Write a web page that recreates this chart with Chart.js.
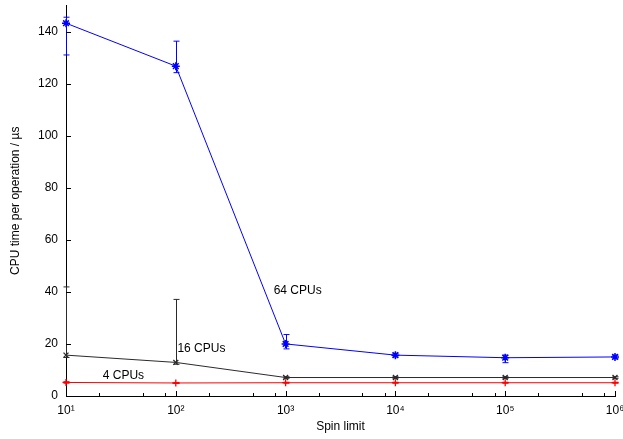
<!DOCTYPE html>
<html>
<head>
<meta charset="utf-8">
<script src="https://cdn.jsdelivr.net/npm/chart.js@4/dist/chart.umd.min.js"></script>
<style>
html, body { margin: 0; padding: 0; background: #fff; }
#wrap { width: 623px; height: 439px; }
</style>
</head>
<body>
<div id="wrap"><canvas id="chSpin"></canvas></div>
<script>
// x values (spin limit) and y tick values
var spinLimits = [10, 100, 1000, 10000, 100000, 1000000];
var yTicks = [0, 20, 40, 60, 80, 100, 120, 140];
var seriesNames = ['64 CPUs', '16 CPUs', '4 CPUs'];

// CPU time per operation (us): mean, low and high of error bar
var cpu64 = [143.2, 126.7, 20.0, 15.7, 14.7, 15.0];
var cpu64Lo = [131.0, 124.2, 18.1, 15.0, 12.8, 14.3];
var cpu64Hi = [145.5, 136.3, 23.6, 16.4, 15.7, 15.7];

var cpu16 = [15.7, 12.9, 7.1, 7.1, 7.1, 7.1];
var cpu16Lo = [14.8, 12.2, 6.8, 6.8, 6.8, 6.8];
var cpu16Hi = [41.9, 37.1, 7.4, 7.4, 7.4, 7.4];

var cpu4 = [5.2, 5.0, 5.1, 5.1, 5.1, 5.1];
var cpu4Lo = [4.9, 4.8, 4.9, 4.9, 4.9, 4.9];
var cpu4Hi = [5.5, 5.2, 5.3, 5.3, 5.3, 5.3];

var FONT = '"Liberation Sans", Arial, Helvetica, sans-serif';
var sup = ['\u2070', '\u00b9', '\u00b2', '\u00b3', '\u2074', '\u2075', '\u2076'];

function pts(vals) {
  return vals.map(function (v, i) { return {x: spinLimits[i], y: v}; });
}

// vertical error bars with small caps
var errorBars = {
  id: 'errorBars',
  afterDatasetsDraw: function (chart) {
    var ctx = chart.ctx, xs = chart.scales.x, ys = chart.scales.y;
    chart.data.datasets.forEach(function (ds) {
      ctx.save();
      ctx.strokeStyle = ds.borderColor;
      ctx.lineWidth = 1;
      ctx.beginPath();
      ds.errLo.forEach(function (lo, i) {
        var px = Math.round(xs.getPixelForValue(spinLimits[i])) + 0.5;
        var top = ys.getPixelForValue(ds.errHi[i]);
        var bot = ys.getPixelForValue(lo);
        ctx.moveTo(px, top); ctx.lineTo(px, bot);
        ctx.moveTo(px - 3, top); ctx.lineTo(px + 3, top);
        ctx.moveTo(px - 3, bot); ctx.lineTo(px + 3, bot);
      });
      ctx.stroke();
      ctx.restore();
    });
  }
};

// inward tick marks, gnuplot style
var inTicks = {
  id: 'inTicks',
  afterDraw: function (chart) {
    var ctx = chart.ctx, a = chart.chartArea, xs = chart.scales.x, ys = chart.scales.y;
    ctx.save();
    ctx.strokeStyle = '#000';
    ctx.lineWidth = 1;
    ctx.beginPath();
    yTicks.forEach(function (v) {
      var py = Math.round(ys.getPixelForValue(v)) + 0.5;
      ctx.moveTo(a.left, py); ctx.lineTo(a.left + 5, py);
    });
    spinLimits.forEach(function (v) {
      var px = Math.round(xs.getPixelForValue(v)) + 0.5;
      ctx.moveTo(px, a.bottom); ctx.lineTo(px, a.bottom - 5);
      if (v < spinLimits[spinLimits.length - 1]) {
        [2, 5, 8].forEach(function (m) {
          var qx = Math.round(xs.getPixelForValue(v * m)) + 0.5;
          ctx.moveTo(qx, a.bottom); ctx.lineTo(qx, a.bottom - 3);
        });
      }
    });
    ctx.stroke();
    ctx.restore();
  }
};

// series names written next to the curves
var seriesLabels = {
  id: 'seriesLabels',
  afterDatasetsDraw: function (chart, args, opts) {
    var ctx = chart.ctx, xs = chart.scales.x, ys = chart.scales.y;
    ctx.save();
    ctx.font = '12px ' + FONT;
    ctx.fillStyle = '#000';
    ctx.textAlign = 'left';
    ctx.textBaseline = 'middle';
    opts.anchors.forEach(function (p, i) {
      ctx.fillText(seriesNames[i], xs.getPixelForValue(p[0]), ys.getPixelForValue(p[1]));
    });
    ctx.restore();
  }
};

new Chart(document.getElementById('chSpin'), {
  type: 'line',
  data: {
    datasets: [
      {
        label: seriesNames[0], data: pts(cpu64), errLo: cpu64Lo, errHi: cpu64Hi,
        borderColor: '#0000ff', backgroundColor: '#0000ff', borderWidth: 1,
        pointStyle: 'star', pointRadius: 4, pointBorderWidth: 1.5, clip: false
      },
      {
        label: seriesNames[1], data: pts(cpu16), errLo: cpu16Lo, errHi: cpu16Hi,
        borderColor: '#2a2a2a', backgroundColor: '#2a2a2a', borderWidth: 1,
        pointStyle: 'crossRot', pointRadius: 3.5, pointBorderWidth: 1.3, clip: false
      },
      {
        label: seriesNames[2], data: pts(cpu4), errLo: cpu4Lo, errHi: cpu4Hi,
        borderColor: '#ff0000', backgroundColor: '#ff0000', borderWidth: 1,
        pointStyle: 'cross', pointRadius: 3.5, pointBorderWidth: 1.3, clip: false
      }
    ]
  },
  options: {
    responsive: true,
    maintainAspectRatio: false,
    animation: false,
    layout: {padding: {left: 0, right: 8, top: 4, bottom: 0}},
    plugins: {
      legend: {display: false},
      tooltip: {enabled: false},
      seriesLabels: {anchors: [[778, 40.4], [103.5, 18.1], [21.6, 7.9]]}
    },
    scales: {
      x: {
        type: 'logarithmic',
        min: 10,
        max: 1000000,
        afterBuildTicks: function (s) { s.ticks = spinLimits.map(function (v) { return {value: v}; }); },
        afterFit: function (s) { s.height = 43; s.paddingLeft = 0; s.paddingRight = 0; },
        ticks: {
          autoSkip: false, maxRotation: 0, padding: 7, color: '#000',
          font: {family: FONT, size: 12},
          callback: function (v) { return '10' + sup[Math.round(Math.log10(v))]; }
        },
        grid: {drawOnChartArea: false, drawTicks: false},
        border: {display: true, color: '#000', width: 1},
        title: {display: true, text: 'Spin limit', color: '#000', font: {family: FONT, size: 12}, padding: {top: 0, bottom: 5}}
      },
      y: {
        type: 'linear',
        min: 0,
        max: 150,
        afterBuildTicks: function (s) { s.ticks = yTicks.map(function (v) { return {value: v}; }); },
        afterFit: function (s) { s.width = 66; s.paddingTop = 0; s.paddingBottom = 0; },
        ticks: {padding: 8, color: '#000', font: {family: FONT, size: 12}},
        grid: {drawOnChartArea: false, drawTicks: false},
        border: {display: true, color: '#000', width: 1},
        title: {display: true, text: 'CPU time per operation / \u00b5s', color: '#000', font: {family: FONT, size: 12}, padding: {top: 8, bottom: 0}}
      }
    }
  },
  plugins: [errorBars, inTicks, seriesLabels]
});
</script>
</body>
</html>
